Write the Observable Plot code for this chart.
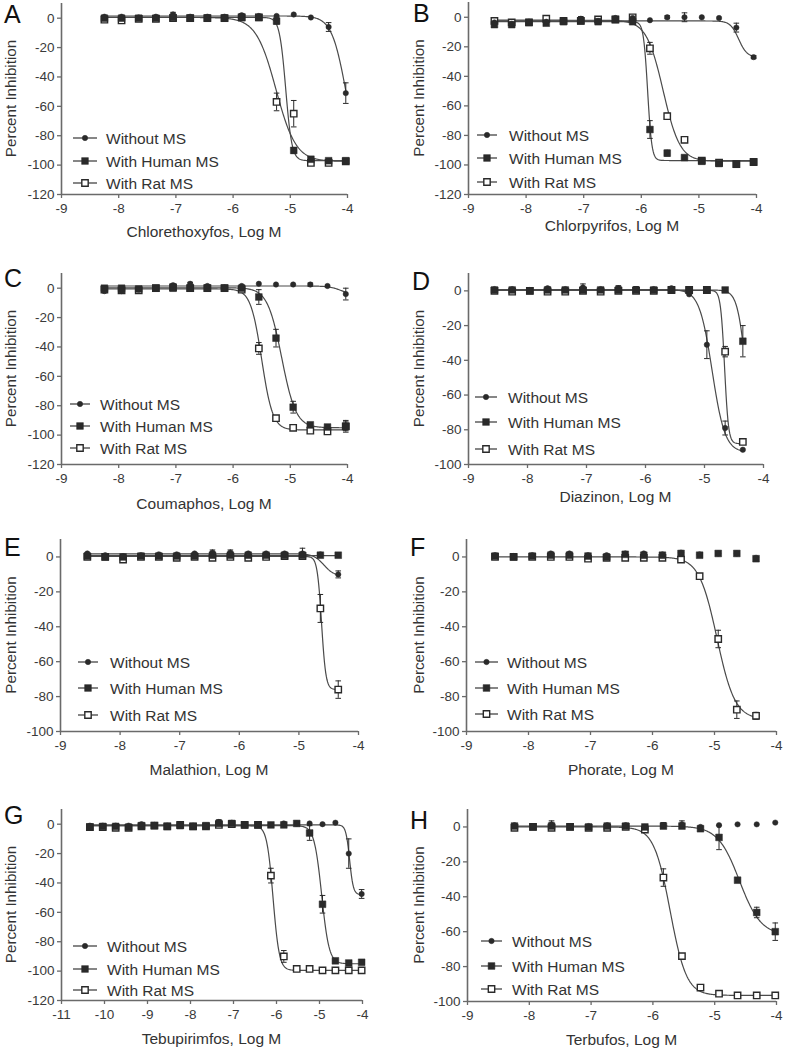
<!DOCTYPE html>
<html><head><meta charset="utf-8">
<script src="https://cdn.jsdelivr.net/npm/d3@7"></script>
<script src="https://cdn.jsdelivr.net/npm/@observablehq/plot@0.6"></script>
<style>
body{margin:0;background:#fff;}
#fig{position:relative;width:785px;height:1050px;font-family:Arial,"Liberation Sans",Helvetica,sans-serif;overflow:hidden;}
#fig svg{position:absolute;overflow:visible;}
</style></head><body><div id="fig"></div>
<script>
// ---------- DATA ----------
const seriesNames = ["Without MS", "With Human MS", "With Rat MS"];
const compounds = ["Chlorethoxyfos", "Chlorpyrifos", "Coumaphos", "Diazinon", "Malathion", "Phorate", "Tebupirimfos", "Terbufos"];
const panelLetters = ["A", "B", "C", "D", "E", "F", "G", "H"];
const xTicks9 = [-9, -8, -7, -6, -5, -4];
const xTicks11 = [-11, -10, -9, -8, -7, -6, -5, -4];
const yTicks120 = [-120, -100, -80, -60, -40, -20, 0];
const yTicks100 = [-100, -80, -60, -40, -20, 0];

// fit parameters per series: [top, bottom, logEC50, hill] (null = no curve drawn)
const A_logM = [-8.25, -7.95, -7.65, -7.35, -7.05, -6.75, -6.45, -6.15, -5.85, -5.55, -5.24, -4.94, -4.64, -4.33, -4.03];
const A_without = [1, 1, 0.5, 1, 2.5, 1, 1, 1, 2, 1.5, 1.5, 2.5, 0.5, -6, -51];
const A_human = [0, 0, 0, 0, 0.5, 0, 0, 0, 0.5, 0.5, -2, -90, -96, -97, -97];
const A_rat = [-1, -1.5, -0.5, -0.5, 0, 0, 0, 0, 0.5, 0.5, -57, -65, -98.5, -98.5, -97.5];
const A_withoutErr = [0, 0, 0, 0, 1.5, 0, 0, 0, 1, 0, 0, 0, 0, 3, 7];
const A_humanErr = [0, 0, 0, 0, 0, 0, 0, 0, 0, 0, 2, 2, 0, 0, 0];
const A_ratErr = [0, 0, 0, 0, 0, 0, 0, 0, 0, 0, 6, 9, 0, 0, 0];
const A_fit = [[1.5, -100, -4.03, 3.5], [0.5, -97, -5.08, 8], [0.5, -97.5, -5.25, 2.5]];

const B_logM = [-8.55, -8.25, -7.95, -7.65, -7.35, -7.05, -6.75, -6.45, -6.15, -5.85, -5.55, -5.25, -4.95, -4.65, -4.35, -4.05];
const B_without = [-3.5, -4.5, -3, -3, -2, -1, -2.5, -0.5, -0.5, -2, 0, 0, 0, -0.5, -7, -27];
const B_human = [-5, -5, -3.5, -4, -3, -2.5, -3, -1.5, -3, -76, -92, -95, -97.5, -99, -99.5, -98];
const B_rat = [-2.5, -3.5, -3.5, -1, -2.5, -2.5, -1.5, -1.5, 0, -21, -67, -83, -97, -98.5, -99.5, -98];
const B_withoutErr = [0, 0, 0, 0, 0, 1.5, 0, 0, 0, 0, 1, 3, 0, 0, 3, 1];
const B_humanErr = [0, 0, 0, 0, 0, 0, 0, 0, 0, 6, 2, 0, 0, 0, 0, 0];
const B_ratErr = [0, 0, 0, 0, 0, 0, 0, 0, 0, 4, 2, 0, 0, 0, 0, 0];
const B_fit = [[-2.5, -27, -4.31, 6], [-3, -97, -5.89, 12], [-2, -97.5, -5.62, 3]];

const C_logM = [-8.25, -7.95, -7.65, -7.35, -7.05, -6.75, -6.45, -6.15, -5.85, -5.55, -5.25, -4.95, -4.65, -4.35, -4.03];
const C_without = [-2, -2, -1, 0, 2, 3, 1.5, 0.5, 1.5, 3, 2.5, 2.5, 2.5, 1.5, -4];
const C_human = [0, 0, -0.5, 0, 0, 0, 0, 0, 0, -6, -34, -81, -93, -94.5, -94];
const C_rat = [-1, -1.5, -1.5, 0, 0.5, 0, 0, 0, -1, -41, -88.5, -95, -97, -97.5, -94];
const C_withoutErr = [0, 0, 0, 0, 1, 1, 0, 0, 0, 0, 0, 0, 1, 0, 4];
const C_humanErr = [0, 0, 0, 0, 0, 0, 0, 0, 0, 5, 6, 4, 0, 0, 3];
const C_ratErr = [0, 0, 0, 0, 0, 0, 0, 0, 0, 4, 0, 0, 0, 0, 4];
const C_fit = [[1.5, -5, -4.1, 4], [0.3, -95, -5.15, 3.5], [-0.5, -96.5, -5.5, 4.5]];

const D_logM = [-8.56, -8.26, -7.96, -7.66, -7.36, -7.06, -6.76, -6.46, -6.16, -5.86, -5.56, -5.26, -4.96, -4.65, -4.35];
const D_without = [1, 1, 0.5, 1.5, 1, 2, 1, 1.5, 1, 1, 1.5, -2, -31, -79, -91.5];
const D_human = [0.5, 0.5, 0, 0.5, 0.5, 0.5, 0.5, 0.5, 0.5, 0.5, 0.5, 0.5, 0.5, 0.5, -29];
const D_rat = [0, -0.5, 0, -0.5, -0.5, 0, -0.5, 0, 0, 0, 0.5, 0.5, 0.5, -35, -87];
const D_withoutErr = [0, 0, 0, 0, 0, 2, 0, 1.5, 1.5, 0, 0, 0, 8, 4, 0];
const D_humanErr = [0, 0, 0, 0, 0, 0, 0, 0, 0, 0, 0, 0, 0, 0, 9];
const D_ratErr = [0, 0, 0, 0, 0, 0, 0, 0, 0, 0, 0, 0, 0, 3, 1];
const D_fit = [[0.8, -93, -4.87, 4], [0.5, -90, -4.3, 6], [0.3, -88, -4.66, 13]];

const E_logM = [-8.55, -8.25, -7.95, -7.65, -7.35, -7.05, -6.75, -6.45, -6.15, -5.85, -5.55, -5.24, -4.94, -4.64, -4.34];
const E_without = [2, 1, 0.5, 1, 1.5, 1.5, 2, 2.5, 2.5, 2, 2, 2, 2, 1.5, -10];
const E_human = [0.5, 0, 0, 0.5, 0.5, 0.5, 0.5, 1, 1, 1, 1, 1, 1, 1, 1];
const E_rat = [0, 0, -1.5, 0, 0, -0.5, 0, -0.5, 0, -0.5, 0, 0.5, 0.5, -29.5, -76];
const E_withoutErr = [0, 0, 0, 0, 0, 0, 0, 1.5, 1.5, 0, 0, 0, 3, 0, 2];
const E_humanErr = [0, 0, 0, 0, 0, 0, 0, 0, 0, 0, 0, 0, 0, 0, 0];
const E_ratErr = [0, 0, 0, 0, 0, 0, 0, 0, 0, 0, 0, 0, 0, 8, 5];
const E_fit = [[1.8, -11, -4.58, 5], [0.8, 0.8, -5, 1], [0.3, -76, -4.62, 12]];

const F_logM = [-8.54, -8.24, -7.94, -7.64, -7.34, -7.04, -6.74, -6.44, -6.14, -5.84, -5.54, -5.24, -4.94, -4.64, -4.33];
const F_without = [1, 0.5, 1, 2, 2, 1, 1, 2, 2, 1.5, 2.5, 1.5, 2, 2, -0.5];
const F_human = [0.5, 0, 0.5, 1, 1, 0.5, 0, 1.5, 1, 1, 2, 1, 2, 2, -1];
const F_rat = [0, 0, 0, 0, 0, -1, -0.5, -0.5, -0.5, -0.5, -1.5, -11, -47, -87.5, -91];
const F_withoutErr = [0, 0, 0, 0, 0, 0, 0, 0, 0, 0, 0, 0, 0, 0, 0];
const F_humanErr = [0, 0, 0, 0, 0, 0, 0, 0, 0, 0, 0, 0, 0, 0, 0];
const F_ratErr = [0, 0, 0, 0, 0, 0, 0, 0, 0, 0, 0, 0, 5, 5, 2];
const F_fit = [null, null, [0, -93, -4.96, 3]];

const G_logM = [-10.34, -10.04, -9.74, -9.44, -9.14, -8.84, -8.54, -8.24, -7.94, -7.64, -7.34, -7.04, -6.74, -6.43, -6.13, -5.83, -5.53, -5.23, -4.93, -4.63, -4.32, -4.02];
const G_without = [-1, -1, -1, -1, 0, -0.5, -1, 0, -1, -1, 1.5, 1, 0, 0, -0.5, 0.5, 0.5, 0.5, 0, 1, -20, -47.5];
const G_human = [-2, -1.5, -1.5, -2, -1, -1, -1.5, -1, -1.5, -1, 0.5, 0.5, -0.5, -0.5, -0.5, -0.5, 0.5, -6, -54.5, -93, -94.5, -94];
const G_rat = [-2, -2, -2.5, -2.5, -1.5, -1, -1.5, -0.5, -1.5, -1.5, -0.5, 0, -0.5, -0.5, -35, -90, -98.5, -98.5, -99.5, -99.5, -99.5, -99.5];
const G_withoutErr = [0, 0, 0, 0, 0, 0, 0, 1.5, 0, 0, 1.5, 0, 0, 0, 0, 0, 0, 0, 0, 0, 10, 3];
const G_humanErr = [0, 0, 0, 0, 0, 0, 0, 0, 0, 0, 0, 0, 0, 0, 0, 0, 0, 5, 6, 0, 0, 0];
const G_ratErr = [0, 0, 0, 0, 0, 0, 0, 0, 0, 0, 0, 0, 0, 0, 5, 4, 0, 0, 0, 0, 0, 0];
const G_fit = [[-0.5, -48, -4.3, 10], [-1, -95, -4.95, 5], [-1, -99.5, -6.08, 6]];

const H_logM = [-8.24, -7.94, -7.64, -7.34, -7.04, -6.74, -6.44, -6.13, -5.83, -5.53, -5.23, -4.93, -4.63, -4.32, -4.02];
const H_without = [1, 0.5, 1.5, 0.5, 0.5, 1, 1, 0, 1, 1.5, 0, 1, 1.5, 1.5, 2.5];
const H_human = [0.5, 0, 0.5, 0, 0, 0.5, 0.5, 0, 0.5, 0.5, -1, -6, -30.5, -49, -60];
const H_rat = [-0.5, 0, -0.5, 0, -0.5, -0.5, 0, -1.5, -29, -74, -92, -95.5, -96.5, -96.5, -96.5];
const H_withoutErr = [0, 0, 2, 0, 0, 0, 0, 0, 1.5, 2, 0, 0, 0, 0, 0];
const H_humanErr = [0, 0, 0, 0, 0, 0, 0, 0, 0, 0, 0, 7, 0, 3, 5];
const H_ratErr = [0, 0, 0, 0, 0, 0, 0, 0, 5, 1.5, 0, 0, 0, 0, 0];
const H_fit = [null, [0.5, -62, -4.6, 2.5], [0, -96.5, -5.72, 3.3]];

// ---------- LAYOUT (positions / styles only) ----------
const layouts = [
  {left: 0,   top: 0,   w: 392, h: 262, ml: 61, mr: 45, mt: 3,  mb: 68, lg: {x1: 73, x2: 97,  tx: 106, ys: [138, 161, 183]}, letter: [4, 23],  xl: 237, yl: 11},
  {left: 392, top: 0,   w: 393, h: 262, ml: 76, mr: 29, mt: 2,  mb: 68, lg: {x1: 85, x2: 105, tx: 117, ys: [135, 158, 182]}, letter: [21, 22], xl: 231, yl: 27},
  {left: 0,   top: 262, w: 392, h: 262, ml: 61, mr: 45, mt: 11, mb: 60, lg: {x1: 70, x2: 90,  tx: 100, ys: [142, 164, 186]}, letter: [4, 25],  xl: 247, yl: 11},
  {left: 392, top: 262, w: 393, h: 262, ml: 76, mr: 22, mt: 11, mb: 60, lg: {x1: 83, x2: 105, tx: 116, ys: [135, 160, 187]}, letter: [20, 28], xl: 240, yl: 27},
  {left: 0,   top: 524, w: 392, h: 262, ml: 60, mr: 34, mt: 15, mb: 55, lg: {x1: 78, x2: 98,  tx: 110, ys: [138, 164, 191]}, letter: [4, 32],  xl: 251, yl: 11},
  {left: 392, top: 524, w: 393, h: 262, ml: 74, mr: 9,  mt: 15, mb: 55, lg: {x1: 83, x2: 106, tx: 115, ys: [138, 164, 190]}, letter: [18, 32], xl: 251, yl: 27},
  {left: 0,   top: 786, w: 392, h: 264, ml: 61, mr: 30, mt: 23, mb: 50, lg: {x1: 73, x2: 97,  tx: 107, ys: [160, 183, 204]}, letter: [4, 38],  xl: 258, yl: 11},
  {left: 392, top: 786, w: 393, h: 264, ml: 75, mr: 9,  mt: 23, mb: 49, lg: {x1: 89, x2: 110, tx: 120, ys: [155, 180, 203]}, letter: [18, 43], xl: 259, yl: 27}
];

const panels = [
  {logM: A_logM, vals: [A_without, A_human, A_rat], errs: [A_withoutErr, A_humanErr, A_ratErr], fits: A_fit, xTicks: xTicks9, yTicks: yTicks120},
  {logM: B_logM, vals: [B_without, B_human, B_rat], errs: [B_withoutErr, B_humanErr, B_ratErr], fits: B_fit, xTicks: xTicks9, yTicks: yTicks120},
  {logM: C_logM, vals: [C_without, C_human, C_rat], errs: [C_withoutErr, C_humanErr, C_ratErr], fits: C_fit, xTicks: xTicks9, yTicks: yTicks120},
  {logM: D_logM, vals: [D_without, D_human, D_rat], errs: [D_withoutErr, D_humanErr, D_ratErr], fits: D_fit, xTicks: xTicks9, yTicks: yTicks100},
  {logM: E_logM, vals: [E_without, E_human, E_rat], errs: [E_withoutErr, E_humanErr, E_ratErr], fits: E_fit, xTicks: xTicks9, yTicks: yTicks100},
  {logM: F_logM, vals: [F_without, F_human, F_rat], errs: [F_withoutErr, F_humanErr, F_ratErr], fits: F_fit, xTicks: xTicks9, yTicks: yTicks100},
  {logM: G_logM, vals: [G_without, G_human, G_rat], errs: [G_withoutErr, G_humanErr, G_ratErr], fits: G_fit, xTicks: xTicks11, yTicks: yTicks120},
  {logM: H_logM, vals: [H_without, H_human, H_rat], errs: [H_withoutErr, H_humanErr, H_ratErr], fits: H_fit, xTicks: xTicks9, yTicks: yTicks100}
];

// ---------- RENDER ----------
const INK = "#2a2a2a";
const AXIS = "#6a6a6a";
const FONT = 'Arial, "Liberation Sans", Helvetica, sans-serif';
const capSymbol = {draw(ctx, size) { const r = Math.sqrt(size / Math.PI); ctx.moveTo(-r, 0); ctx.lineTo(r, 0); }};
const markerStyle = [
  {symbol: "circle", r: 2.7, fill: INK, stroke: INK, strokeWidth: 0.5},
  {symbol: "square", r: 3.8, fill: INK, stroke: INK, strokeWidth: 0.5},
  {symbol: "square", r: 3.6, fill: "white", stroke: INK, strokeWidth: 1.4}
];
const fig = document.getElementById("fig");

panels.forEach((p, i) => {
  const L = layouts[i];
  const xDomain = [p.xTicks[0], p.xTicks[p.xTicks.length - 1]];
  const yDomain = [p.yTicks[0], 10];
  const pts = [], errRows = [], curves = [];
  p.vals.forEach((arr, s) => {
    arr.forEach((v, k) => {
      pts.push({s, x: p.logM[k], y: v});
      const e = p.errs[s][k];
      if (e > 0) errRows.push({s, x: p.logM[k], y: v, e});
    });
    const f = p.fits[s];
    if (f) {
      const [top, bottom, ec50, hill] = f;
      const x0 = p.logM[0], x1 = p.logM[p.logM.length - 1];
      d3.range(0, 401).forEach(j => {
        const x = x0 + (x1 - x0) * j / 400;
        curves.push({s, x, y: bottom + (top - bottom) / (1 + Math.pow(10, (x - ec50) * hill))});
      });
    }
  });
  const dotMarks = [2, 1, 0].map(s => Plot.dot(pts.filter(d => d.s === s), {x: "x", y: "y", ...markerStyle[s]}));
  const svg = Plot.plot({
    width: L.w, height: L.h,
    marginLeft: L.ml, marginRight: L.mr, marginTop: L.mt, marginBottom: L.mb,
    x: {domain: xDomain, label: null},
    y: {domain: yDomain, label: null},
    style: {fontFamily: FONT, fontSize: "13.5px", color: "#333", background: "transparent", overflow: "visible"},
    marks: [
      Plot.axisX({ticks: p.xTicks, tickSize: 4, tickPadding: 5, tickFormat: d => String(d), stroke: AXIS, strokeWidth: 1.3, fill: "#3a3a3a", label: null}),
      Plot.axisY({ticks: p.yTicks, tickSize: 4, tickPadding: 3, tickFormat: d => String(d), stroke: AXIS, strokeWidth: 1.3, fill: "#3a3a3a", label: null}),
      Plot.ruleX([xDomain[0]], {stroke: AXIS, strokeWidth: 1.6}),
      Plot.ruleY([yDomain[0]], {stroke: AXIS, strokeWidth: 1.6}),
      Plot.line(curves, {x: "x", y: "y", z: "s", stroke: "#4a4a4a", strokeWidth: 1.2, curve: "linear"}),
      Plot.ruleX(errRows, {x: "x", y1: d => d.y - d.e, y2: d => d.y + d.e, stroke: INK, strokeWidth: 1}),
      Plot.dot(errRows, {x: "x", y: d => d.y + d.e, symbol: capSymbol, r: 2.8, stroke: INK, strokeWidth: 1}),
      Plot.dot(errRows, {x: "x", y: d => d.y - d.e, symbol: capSymbol, r: 2.8, stroke: INK, strokeWidth: 1}),
      ...dotMarks
    ]
  });
  svg.style.left = L.left + "px";
  svg.style.top = L.top + "px";
  const g = d3.select(svg).append("g").attr("font-family", FONT).attr("fill", "#333").attr("text-anchor", "start");
  // panel letter
  g.append("text").attr("x", L.letter[0]).attr("y", L.letter[1]).attr("font-size", 25).attr("fill", "#111").text(panelLetters[i]);
  // axis titles
  const frameCx = L.ml + (L.w - L.ml - L.mr) / 2;
  const frameCy = L.mt + (L.h - L.mt - L.mb) / 2;
  g.append("text").attr("x", frameCx).attr("y", L.xl).attr("text-anchor", "middle").attr("font-size", 15.5)
    .text(compounds[i] + ", Log M");
  g.append("text").attr("transform", `translate(${L.yl},${frameCy}) rotate(-90)`).attr("text-anchor", "middle")
    .attr("dy", "0.35em").attr("font-size", 15.2).text("Percent Inhibition");
  // legend
  const symGen = d3.symbol();
  seriesNames.forEach((name, s) => {
    const y = L.lg.ys[s];
    const row = g.append("g");
    row.append("line").attr("x1", L.lg.x1).attr("x2", L.lg.x2).attr("y1", y).attr("y2", y).attr("stroke", "#444").attr("stroke-width", 1.3);
    const m = markerStyle[s];
    const typ = m.symbol === "circle" ? d3.symbolCircle : d3.symbolSquare;
    row.append("path").attr("transform", `translate(${(L.lg.x1 + L.lg.x2) / 2},${y})`)
      .attr("d", symGen.type(typ).size(Math.PI * m.r * m.r)())
      .attr("fill", m.fill).attr("stroke", m.stroke).attr("stroke-width", m.strokeWidth);
    row.append("text").attr("x", L.lg.tx).attr("y", y).attr("dy", "0.36em").attr("text-anchor", "start").attr("font-size", 15.5).text(name);
  });
  fig.appendChild(svg);
});
</script>
</body></html>
